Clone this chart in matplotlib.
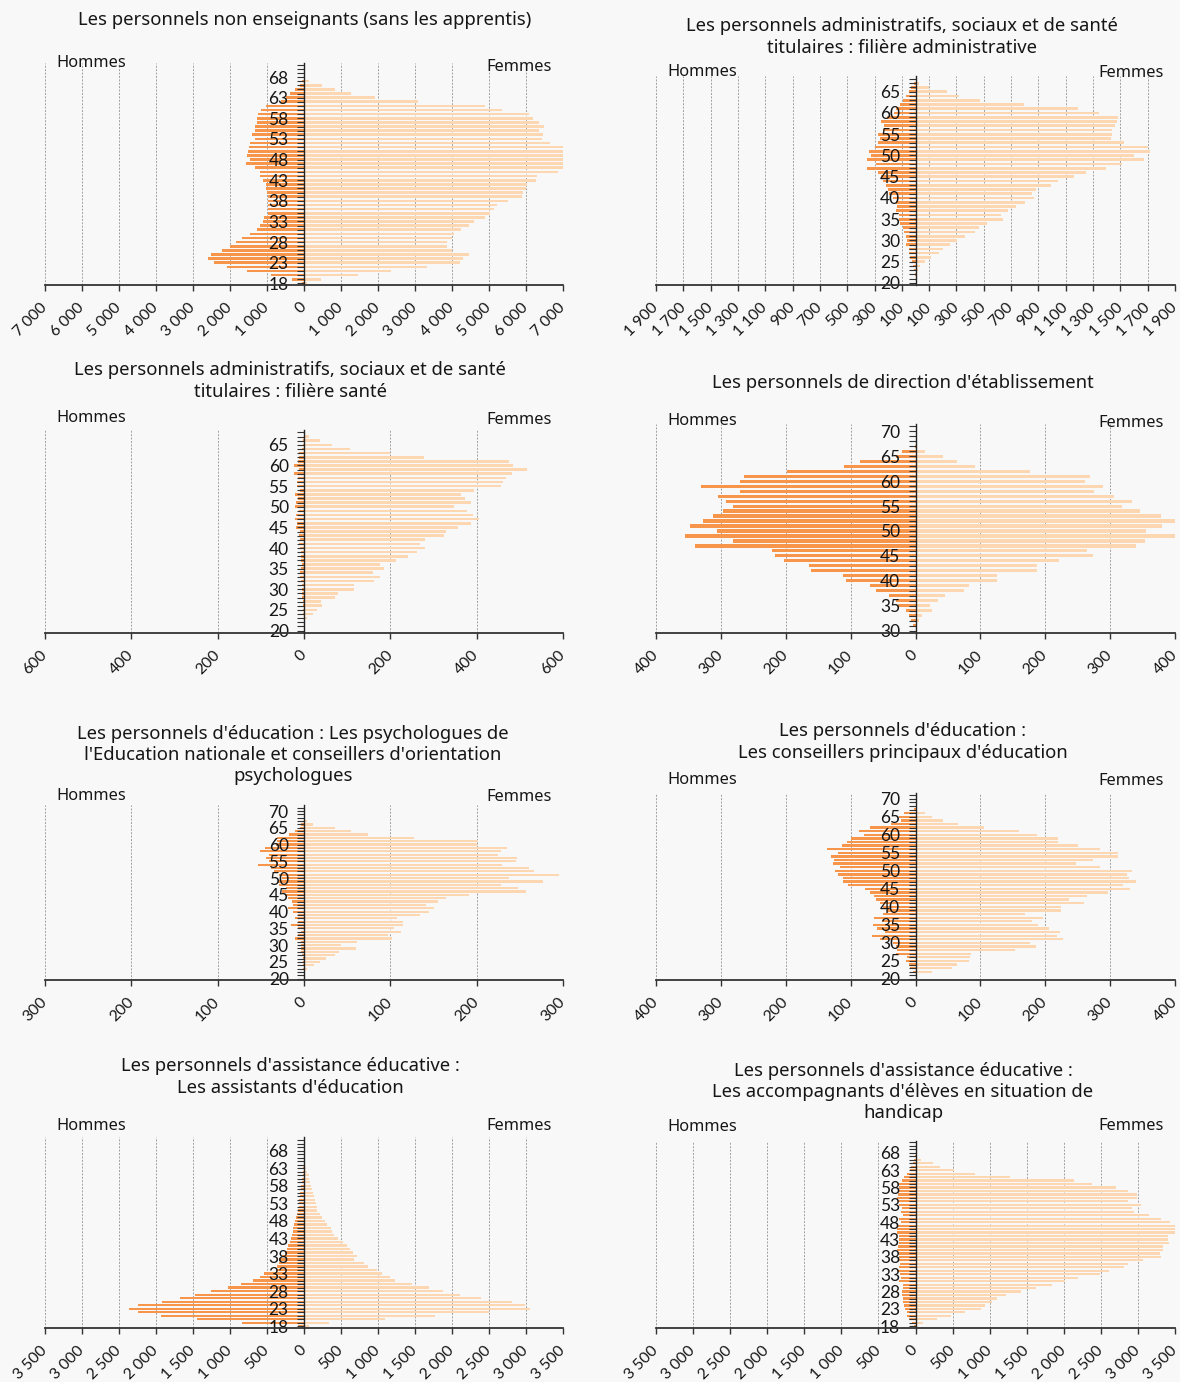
import matplotlib
matplotlib.use("Agg")
import matplotlib.pyplot as plt
import numpy as np

W, H = 1180, 1382
BG = "#f8f8f8"
MEN_COLOR = "#f7964a"
WOMEN_COLOR = "#fdd6b2"
GRID_COLOR = "#a0a0a0"
TITLE_FONT = ["Noto Sans", "DejaVu Sans"]
TICK_FONT = ["Lato", "DejaVu Sans"]

# --- 1. personnels non enseignants, ages 18..67
ages_1 = np.arange(18, 68)
men_1 = [60, 315, 890, 1540, 2080, 2430, 2590, 2520, 2210, 1990,
         1840, 1680, 1450, 1280, 1200, 1100, 1080, 980, 980, 980,
         980, 980, 1000, 1020, 1040, 1100, 1180, 1200, 1330, 1580,
         1460, 1550, 1510, 1480, 1450, 1330, 1400, 1330, 1330, 1280,
         1280, 1230, 1150, 1030, 620, 500, 390, 240, 110, 60]
women_1 = [90, 450, 1450, 2340, 3330, 4220, 4290, 4470, 3990, 3860,
           3860, 3990, 4050, 4240, 4450, 4600, 4900, 5040, 5130, 5210,
           5510, 5900, 5930, 6000, 6020, 6260, 6310, 6860, 7030, 7030,
           7030, 7030, 7030, 7000, 6650, 6420, 6450, 6360, 6480, 6340,
           6200, 6070, 5350, 4890, 3070, 1920, 1270, 840, 480, 140]

# --- 2. filiere administrative, ages 22..67
ages_2 = np.arange(22, 68)
men_2 = [5, 11, 19, 24, 38, 46, 46, 73, 60, 73,
         81, 92, 114, 119, 119, 141, 133, 146, 168, 195,
         200, 217, 236, 249, 276, 352, 290, 352, 325, 339,
         298, 271, 263, 271, 236, 228, 249, 209, 154, 141,
         116, 92, 70, 46, 32, 10]
women_2 = [14, 16, 35, 70, 111, 171, 203, 252, 306, 360,
           436, 466, 523, 637, 629, 680, 734, 802, 867, 854,
           883, 992, 1043, 1160, 1249, 1396, 1512, 1675, 1602, 1715,
           1705, 1526, 1431, 1442, 1442, 1463, 1477, 1480, 1344, 1192,
           797, 474, 320, 228, 100, 27]

# --- 3. filiere sante, ages 23..68
ages_3 = np.arange(23, 69)
men_3 = [1, 2, 2, 3, 3, 4, 4, 5, 5, 8,
         9, 9, 7, 5, 6, 7, 8, 10, 12, 10,
         12, 9, 18, 16, 22, 18, 12, 20, 18, 14,
         20, 10, 16, 17, 13, 24, 12, 24, 15, 12,
         11, 5, 3, 2, 1, 0]
women_3 = [8, 21, 29, 42, 39, 72, 79, 116, 116, 162,
           176, 159, 185, 177, 214, 240, 262, 280, 268, 280,
           325, 328, 356, 388, 406, 391, 377, 347, 388, 374,
           363, 394, 456, 462, 468, 481, 517, 485, 474, 278,
           200, 106, 65, 36, 12, 3]

# --- 4. direction d'etablissement, ages 31..67
ages_4 = np.arange(31, 68)
men_4 = [4, 7, 10, 15, 27, 30, 41, 61, 70, 107,
         112, 161, 164, 203, 217, 221, 340, 281, 356, 306,
         348, 328, 312, 296, 281, 292, 305, 270, 330, 270,
         264, 198, 110, 85, 30, 21, 1]
women_4 = [3, 5, 10, 26, 23, 35, 45, 74, 82, 126,
           126, 187, 187, 221, 273, 264, 340, 353, 403, 355,
           380, 400, 379, 346, 318, 333, 306, 275, 289, 262,
           269, 176, 91, 64, 43, 15, 2]

# --- 5. psychologues, ages 23..67
ages_5 = np.arange(23, 68)
men_5 = [1, 1, 1, 1, 2, 4, 3, 3, 4, 11,
         7, 4, 7, 15, 7, 10, 7, 13, 18, 13,
         14, 18, 22, 26, 21, 29, 30, 26, 29, 35,
         38, 53, 41, 44, 41, 51, 45, 33, 31, 31,
         17, 10, 5, 3, 0]
women_5 = [4, 12, 18, 26, 36, 40, 60, 43, 61, 102,
           97, 112, 104, 115, 115, 108, 134, 145, 150, 141,
           155, 165, 191, 257, 248, 228, 277, 237, 295, 266,
           261, 229, 246, 247, 225, 228, 235, 200, 201, 127,
           74, 54, 36, 11, 4]

# --- 6. conseillers principaux d'education, ages 22..67
ages_6 = np.arange(22, 68)
men_6 = [4, 8, 10, 14, 13, 30, 28, 30, 35, 54,
         67, 47, 59, 65, 52, 64, 50, 44, 50, 55,
         61, 64, 70, 78, 104, 112, 112, 119, 124, 116,
         127, 126, 131, 120, 137, 114, 105, 100, 79, 87,
         70, 38, 23, 25, 18, 2]
women_6 = [26, 56, 64, 83, 84, 86, 153, 186, 176, 227,
           218, 223, 206, 189, 180, 196, 169, 225, 225, 259,
           237, 265, 297, 330, 320, 340, 329, 326, 333, 284,
           248, 273, 312, 312, 284, 250, 220, 219, 187, 159,
           106, 66, 43, 25, 14, 2]

# --- 7. assistants d'education, ages 18..63
ages_7 = np.arange(18, 64)
men_7 = [81, 841, 1449, 1930, 2249, 2361, 2249, 1920, 1672, 1469,
         1261, 1028, 851, 689, 598, 537, 385, 360, 344, 334,
         294, 258, 233, 213, 193, 172, 162, 152, 142, 132,
         117, 106, 91, 81, 71, 66, 61, 56, 51, 46,
         40, 30, 25, 20, 15, 10]
women_7 = [61, 334, 1099, 1768, 2503, 3050, 2984, 2806, 2391, 2107,
           1884, 1692, 1454, 1236, 1160, 1054, 983, 871, 811, 679,
           719, 659, 628, 578, 527, 466, 400, 375, 365, 314,
           284, 248, 213, 182, 172, 162, 142, 132, 122, 111,
           101, 81, 71, 61, 46, 30]

# --- 8. AESH, ages 18..67
ages_8 = np.arange(18, 68)
men_8 = [20, 50, 85, 110, 120, 135, 160, 170, 170, 185,
         185, 170, 170, 220, 195, 210, 245, 220, 210, 220,
         220, 220, 245, 235, 220, 220, 220, 245, 245, 235,
         200, 220, 170, 200, 185, 220, 235, 245, 235, 235,
         220, 220, 185, 150, 120, 80, 60, 35, 15, 5]
women_8 = [15, 100, 290, 479, 664, 879, 939, 1028, 1098, 1223,
           1423, 1623, 1837, 2012, 2187, 2486, 2611, 2811, 2866, 3065,
           3315, 3300, 3335, 3335, 3425, 3400, 3400, 3525, 3525, 3525,
           3435, 3315, 3155, 2945, 2925, 3035, 2871, 2985, 2985, 2871,
           2701, 2386, 2137, 1273, 804, 514, 330, 240, 70, 25]

titles = [
    "Les personnels non enseignants (sans les apprentis)",
    "Les personnels administratifs, sociaux et de santé\ntitulaires : filière administrative",
    "Les personnels administratifs, sociaux et de santé\ntitulaires : filière santé",
    "Les personnels de direction d'établissement",
    "Les personnels d'éducation : Les psychologues de\nl'Education nationale et conseillers d'orientation\npsychologues",
    "Les personnels d'éducation :\nLes conseillers principaux d'éducation",
    "Les personnels d'assistance éducative :\nLes assistants d'éducation",
    "Les personnels d'assistance éducative :\nLes accompagnants d'élèves en situation de\nhandicap",
]
x_ticks = [
    np.arange(-7000, 7001, 1000),
    np.arange(-1900, 1901, 200),
    np.arange(-600, 601, 200),
    np.arange(-400, 401, 100),
    np.arange(-300, 301, 100),
    np.arange(-400, 401, 100),
    np.arange(-3500, 3501, 500),
    np.arange(-3500, 3501, 500),
]
age_labels = [
    np.arange(18, 69, 5), np.arange(20, 66, 5), np.arange(20, 66, 5),
    np.arange(30, 71, 5), np.arange(20, 71, 5), np.arange(20, 71, 5),
    np.arange(18, 69, 5), np.arange(18, 69, 5),
]
y_limits = [(17.6, 71.4), (19.5, 68.7), (19.4, 68.6), (29.5, 71.5),
            (19.6, 71.8), (19.7, 71.6), (17.5, 71.9), (17.5, 71.4)]

series = [
    (ages_1, men_1, women_1), (ages_2, men_2, women_2),
    (ages_3, men_3, women_3), (ages_4, men_4, women_4),
    (ages_5, men_5, women_5), (ages_6, men_6, women_6),
    (ages_7, men_7, women_7), (ages_8, men_8, women_8),
]

# layout in pixels: x left, x right, y top, y bottom of each plot area
boxes = [(45, 563, 63, 285), (656, 1175, 76, 285),
         (45, 563, 430, 633), (656, 1175, 424, 633),
         (45, 563, 805, 980), (656, 1175, 793, 980),
         (45, 563, 1137, 1328), (656, 1175, 1141, 1328)]
title_pos = [(305, 20), (902, 37), (290, 381), (903, 383),
             (293, 755), (903, 742), (290, 1077), (903, 1092)]
sex_label_y = [(63, 67), (72, 73), (418, 420), (421, 423),
               (796, 797), (780, 781), (1126, 1126), (1127, 1126)]


def fmt(value):
    return f"{abs(int(value)):,}".replace(",", " ")


def fig_text(fig, x, y, s, **kw):
    return fig.text(x / W, 1 - y / H, s, **kw)


fig = plt.figure(figsize=(W / 100, H / 100), dpi=100, facecolor=BG)

for i, (ages, men, women) in enumerate(series):
    x0, x1, yt, yb = boxes[i]
    ax = fig.add_axes([x0 / W, 1 - yb / H, (x1 - x0) / W, (yb - yt) / H])
    ax.set_facecolor("none")

    ticks = x_ticks[i]
    for t in ticks:
        if t != 0:
            ax.axvline(t, color=GRID_COLOR, lw=0.7, ls=(0, (2, 1.5)), zorder=0)

    ax.barh(ages, -np.asarray(men), height=0.64, color=MEN_COLOR, zorder=1)
    ax.barh(ages, women, height=0.64, color=WOMEN_COLOR, zorder=1)

    ax.set_xlim(ticks[0], ticks[-1])
    ymin, ymax = y_limits[i]
    ax.set_ylim(ymin, ymax)

    ax.spines["top"].set_visible(False)
    ax.spines["right"].set_visible(False)
    ax.spines["left"].set_position(("data", 0))
    ax.spines["left"].set_color("#222222")
    ax.spines["left"].set_linewidth(1.0)
    ax.spines["bottom"].set_color("#333333")
    ax.spines["bottom"].set_linewidth(1.3)

    ax.set_xticks(ticks)
    ax.set_xticklabels([fmt(t) for t in ticks], rotation=45, ha="right",
                       va="center", rotation_mode="anchor",
                       family=TICK_FONT, fontsize=11.3, color="#161616")
    ax.tick_params(axis="x", length=4.5, width=1, color="#333333", pad=10)

    ax.set_yticks(age_labels[i])
    ax.set_yticklabels([str(a) for a in age_labels[i]], family=TICK_FONT,
                       fontsize=12.5, color="#161616")
    ax.set_yticks(np.arange(np.ceil(ymin), np.floor(ymax) + 1), minor=True)
    ax.tick_params(axis="y", which="both", direction="out", length=5,
                   width=0.8, color="#333333", pad=6)

    tx, ty = title_pos[i]
    fig_text(fig, tx, ty, titles[i], ha="center", va="center",
             family=TITLE_FONT, fontsize=13.3, linespacing=1.22,
             color="#161616")
    hy, fy = sex_label_y[i]
    fig_text(fig, x0 + 11, hy, "Hommes", ha="left", va="center",
             family=TITLE_FONT, fontsize=11.8, color="#161616")
    fig_text(fig, x1 - 11, fy, "Femmes", ha="right", va="center",
             family=TITLE_FONT, fontsize=11.8, color="#161616")

fig.savefig("out.png", dpi=100, facecolor=BG)
